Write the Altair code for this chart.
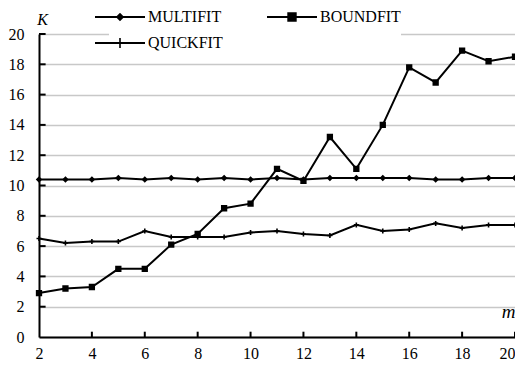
import altair as alt
import pandas as pd

m_values = list(range(2, 21))
multifit = [10.4, 10.4, 10.4, 10.5, 10.4, 10.5, 10.4, 10.5, 10.4, 10.5, 10.4, 10.5, 10.5, 10.5, 10.5, 10.4, 10.4, 10.5, 10.5]
boundfit = [2.9, 3.2, 3.3, 4.5, 4.5, 6.1, 6.8, 8.5, 8.8, 11.1, 10.3, 13.2, 11.1, 14.0, 17.8, 16.8, 18.9, 18.2, 18.5]
quickfit = [6.5, 6.2, 6.3, 6.3, 7.0, 6.6, 6.6, 6.6, 6.9, 7.0, 6.8, 6.7, 7.4, 7.0, 7.1, 7.5, 7.2, 7.4, 7.4]
series_names = ["MULTIFIT", "BOUNDFIT", "QUICKFIT"]
legend_order = ["MULTIFIT", "QUICKFIT", "BOUNDFIT"]
x_ticks = list(range(2, 21, 2))
y_ticks = list(range(0, 21, 2))

rows = []
for name, vals in zip(series_names, [multifit, boundfit, quickfit]):
    for mv, k in zip(m_values, vals):
        rows.append({"m": mv, "K": k, "series": name})
df = pd.DataFrame(rows)

marker_paths = {
    "MULTIFIT": "M0,-0.42L0.42,0L0,0.42L-0.42,0Z",
    "BOUNDFIT": "M-0.47,-0.47H0.47V0.47H-0.47Z",
    "QUICKFIT": "M-0.5,0H0.5M0,-0.5V0.5",
}
# legend glyphs: a filled thin bar for the line plus the marker
BAR = "M-2.5,-0.1H2.5V0.1H-2.5Z"
legend_paths = {
    "MULTIFIT": BAR + "M0,-0.42L0.42,0L0,0.42L-0.42,0Z",
    "BOUNDFIT": BAR + "M-0.47,-0.47H0.47V0.47H-0.47Z",
    "QUICKFIT": BAR + "M-0.08,-0.5H0.08V0.5H-0.08Z",
}

FONT = "Liberation Serif"

x_scale = alt.Scale(domain=[2, 20], nice=False, zero=False)
y_scale = alt.Scale(domain=[0, 20], nice=False)

x_axis = alt.Axis(values=x_ticks, grid=False, ticks=False, tickSize=0,
                  labelPadding=8, labelOverlap=False, domainColor="black", domainWidth=2,
                  labelFont=FONT, labelFontSize=16, labelColor="black",
                  labelAlign={"condition": {"test": "datum.value >= 20", "value": "right"}, "value": "center"},
                  title="m", titleFont=FONT, titleFontStyle="italic",
                  titleFontWeight="normal", titleFontSize=19,
                  titleX=476, titleY=-20, titleAlign="right",
                  titleBaseline="alphabetic", titleColor="black")
y_axis = alt.Axis(values=y_ticks, grid=True, gridColor="#c8c8c8", gridWidth=1.6,
                  ticks=False, tickSize=0, labelPadding=15, labelOverlap=False,
                  labelFont=FONT, labelFontSize=16, labelColor="black",
                  domainColor="black", domainWidth=2,
                  title="K", titleFont=FONT, titleFontStyle="italic",
                  titleFontWeight="normal", titleFontSize=16, titleAngle=0,
                  titleX=3, titleY=-10, titleAlign="center",
                  titleBaseline="alphabetic", titleColor="black")

base = alt.Chart(df)

lines = base.mark_line(color="black", strokeWidth=2).encode(
    x=alt.X("m:Q", scale=x_scale, axis=x_axis),
    y=alt.Y("K:Q", scale=y_scale, axis=y_axis),
    detail="series:N",
)

points = base.mark_point(filled=True, color="black", stroke="black", strokeWidth=1.6, opacity=1).encode(
    x=alt.X("m:Q", scale=x_scale, axis=x_axis),
    y=alt.Y("K:Q", scale=y_scale, axis=y_axis),
    shape=alt.Shape("series:N",
                    scale=alt.Scale(domain=series_names, range=[marker_paths[s] for s in series_names]),
                    legend=None),
    size=alt.value(100),
)

legend_layer = base.transform_filter("datum.K < -100").mark_point(
    filled=True, color="black", opacity=1
).encode(
    x=alt.X("m:Q", scale=x_scale, axis=x_axis),
    y=alt.Y("K:Q", scale=y_scale, axis=y_axis),
    shape=alt.Shape("series:N",
                    scale=alt.Scale(domain=legend_order, range=[legend_paths[s] for s in legend_order]),
                    sort=legend_order,
                    legend=alt.Legend(title=None, orient="none", legendX=70, legendY=-28,
                                      columns=2, columnPadding=41, rowPadding=7,
                                      symbolSize=400, labelOffset=17,
                                      labelFont=FONT, labelFontSize=16, labelColor="black",
                                      symbolFillColor="black",
                                      fillColor="white", padding=0)),
)

x_tick_df = pd.DataFrame({"m": x_ticks[1:]})
x_tick_marks = alt.Chart(x_tick_df).mark_rule(color="black", strokeWidth=2).encode(
    x=alt.X("m:Q", scale=x_scale, axis=x_axis),
    y=alt.datum(0, scale=y_scale, axis=y_axis),
    y2=alt.datum(0.35),
)
y_tick_df = pd.DataFrame({"K": y_ticks[1:]})
y_tick_marks = alt.Chart(y_tick_df).mark_rule(color="black", strokeWidth=2).encode(
    y=alt.Y("K:Q", scale=y_scale, axis=y_axis),
    x=alt.datum(2, scale=x_scale, axis=x_axis),
    x2=alt.datum(2.25),
)

chart = alt.layer(lines, legend_layer, points, x_tick_marks, y_tick_marks).resolve_scale(
    shape="independent"
).properties(
    width=476, height=303,
    padding={"left": 31, "top": 26, "right": 0, "bottom": 25},
    autosize=alt.AutoSizeParams(type="none"),
    background="white",
).configure_view(stroke=None)

chart.save("out.html", embed_options={"renderer": "svg", "actions": False})
